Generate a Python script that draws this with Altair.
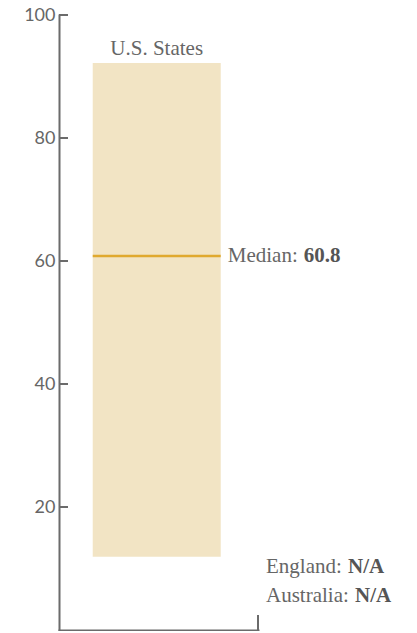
import altair as alt
import pandas as pd

# ---- data ----
groups = ["U.S. States"]
range_low = [11.9]
range_high = [92.2]
medians = [60.8]
tick_values = [20, 40, 60, 80, 100]
other_names = ["England", "Australia"]
other_values = ["N/A", "N/A"]

df = pd.DataFrame({"group": groups, "low": range_low, "high": range_high, "median": medians})
df["median_label"] = [f"{m:.1f}" for m in medians]
ticks_df = pd.DataFrame({"tick": tick_values})

GRAY = "#6b6b6b"
TEXT = "#666666"
BOLD = "#555555"
SERIF = "Liberation Serif"
FS = 21

xscale = alt.Scale(domain=groups, paddingInner=0, paddingOuter=0.2773, align=0.475)
yscale = alt.Scale(domain=[0, 100], nice=False, zero=True)

base = alt.Chart(df)

bar = base.mark_bar(color="#f2e4c4").encode(
    x=alt.X("group:N", scale=xscale,
            axis=alt.Axis(title=None, labels=False, ticks=False, grid=False,
                          domainColor=GRAY, domainWidth=2, domainCap="square")),
    y=alt.Y("low:Q", scale=yscale,
            axis=alt.Axis(title=None, values=tick_values, ticks=False, grid=False,
                          domainColor=GRAY, domainWidth=2, domainCap="square",
                          labelFont="Lato", labelFontSize=18,
                          labelColor=TEXT, labelPadding=4, labelFlush=False)),
    y2="high:Q",
)

median_bar = base.transform_calculate(
    m_lo="datum.median - 0.2", m_hi="datum.median + 0.2"
).mark_bar(color="#e0a92f").encode(
    x=alt.X("group:N", scale=xscale),
    y=alt.Y("m_lo:Q", scale=yscale),
    y2="m_hi:Q",
)

tick_rules = alt.Chart(ticks_df).mark_rule(color=GRAY, strokeWidth=2).encode(
    y=alt.Y("tick:Q", scale=yscale),
    x=alt.value(0),
    x2=alt.value(9),
)

end_tick = base.mark_rule(color=GRAY, strokeWidth=2, strokeCap="square").encode(
    x=alt.value(199),
    y=alt.value(601),
    y2=alt.value(615),
)

title_text = base.mark_text(font=SERIF, fontSize=FS, color=TEXT,
                            baseline="alphabetic", dy=-8).encode(
    x=alt.X("group:N", scale=xscale),
    y=alt.Y("high:Q", scale=yscale),
    text="group:N",
)

median_text = base.mark_text(font=SERIF, fontSize=FS, color=TEXT, align="left",
                             baseline="alphabetic", dx=7, dy=6).encode(
    x=alt.X("group:N", scale=xscale, bandPosition=1),
    y=alt.Y("median:Q", scale=yscale),
    text=alt.value("Median:"),
)

median_bold = base.mark_text(font=SERIF, fontSize=FS, color=BOLD, fontWeight="bold",
                             align="left", baseline="alphabetic", dx=7 + 76, dy=6).encode(
    x=alt.X("group:N", scale=xscale, bandPosition=1),
    y=alt.Y("median:Q", scale=yscale),
    text="median_label:N",
)

others = []
row_y = [558, 587]
bold_dx = [82, 89]
for name, val, yy, bdx in zip(other_names, other_values, row_y, bold_dx):
    odf = pd.DataFrame({"name": [name + ":"], "val": [val]})
    c = alt.Chart(odf)
    others.append(c.mark_text(font=SERIF, fontSize=FS, color=TEXT, align="left",
                              baseline="alphabetic").encode(
        x=alt.value(207), y=alt.value(yy), text="name:N"))
    others.append(c.mark_text(font=SERIF, fontSize=FS, color=BOLD, fontWeight="bold",
                              align="left", baseline="alphabetic", dx=bdx).encode(
        x=alt.value(207), y=alt.value(yy), text="val:N"))

chart = alt.layer(
    bar, median_bar, tick_rules, end_tick, title_text, median_text, median_bold, *others
).properties(
    width=199, height=615,
    padding={"left": 51, "top": 7, "right": 151, "bottom": 1},
    autosize="none",
).configure_view(stroke=None)

chart.save("out.html", embed_options={"renderer": "svg", "actions": False})
